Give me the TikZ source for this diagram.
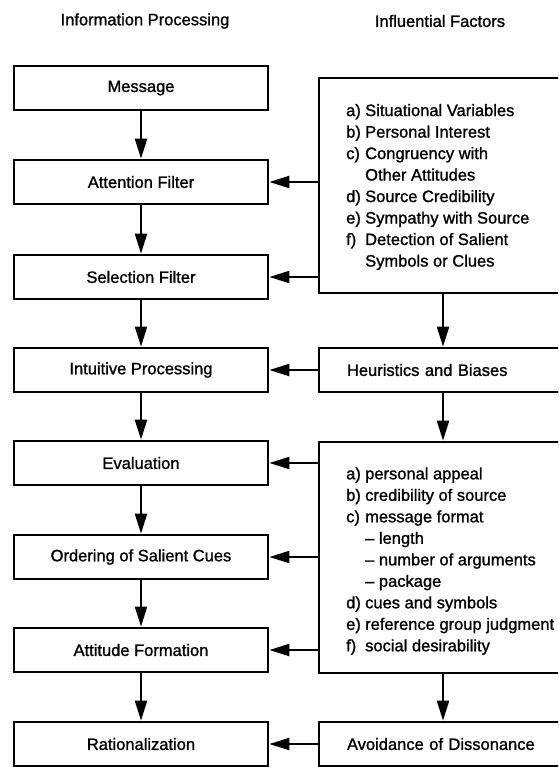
\documentclass[tikz,border=0pt]{standalone}
\usepackage{fontspec}
\setmainfont{Liberation Sans}[FakeBold=1.2]
\usetikzlibrary{arrows.meta}
\newcommand{\txtfont}{\fontsize{16.5}{21.5}\selectfont}
\begin{document}
\begin{tikzpicture}[x=1pt,y=-1pt,
  lbox/.style={draw,line width=2.7pt,minimum width=254pt,minimum height=44pt,inner sep=0pt,font=\txtfont},
  rbox/.style={draw,line width=2.7pt,minimum width=248pt,inner sep=0pt},
  rsingle/.style={draw,line width=2.7pt,minimum width=248pt,minimum height=44pt,text width=192pt,inner xsep=28pt,inner ysep=0pt,align=left,font=\txtfont},
  listtext/.style={anchor=west,inner sep=0pt,font=\txtfont},
  hdr/.style={font=\txtfont,inner sep=0pt},
  arr/.style={line width=2.2pt,-{Triangle[length=20pt,width=12pt]}}
]
\useasboundingbox (0,0) rectangle (558,767);
\clip (0,0) rectangle (558,767);

% headers
\node[hdr] (h1) at (145,21) {Information Processing};
\node[hdr] (h2) at (440,21) {Influential Factors};

% left column
\node[lbox] (msg) at (141,88) {Message};
\node[lbox] (att) at (141,182) {Attention Filter};
\node[lbox] (sel) at (141,277) {Selection Filter};
\node[lbox] (int) at (141,370) {Intuitive Processing};
\node[lbox] (eva) at (141,463) {Evaluation};
\node[lbox] (ord) at (141,557) {Ordering of Salient Cues};
\node[lbox] (atf) at (141,650) {Attitude Formation};
\node[lbox] (rat) at (141,744) {Rationalization};

% right column
\node[rbox,minimum height=215pt] (r1) at (443,185.5) {};
\node[listtext] (r1t) at (346,187) {%
\begin{tabular}{@{}p{15pt}@{\hspace{4pt}}l@{}}
a) & Situational Variables\\
b) & Personal Interest\\
c) & Congruency with\\
   & Other Attitudes\\
d) & Source Credibility\\
e) & Sympathy with Source\\
f) & Detection of Salient\\
   & Symbols or Clues
\end{tabular}};
\node[rsingle] (heu) at (443,370) {Heuristics and Biases};
\node[rbox,minimum height=231pt] (r3) at (443,557.5) {};
\node[listtext] (r3t) at (346,561) {%
\begin{tabular}{@{}p{15pt}@{\hspace{4pt}}l@{}}
a) & personal appeal\\
b) & credibility of source\\
c) & message format\\
   & -- length\\
   & -- number of arguments\\
   & -- package\\
d) & cues and symbols\\
e) & reference group judgment\\
f) & social desirability
\end{tabular}};
\node[rsingle] (avo) at (443,744) {Avoidance of Dissonance};

% vertical arrows left
\draw[arr] (msg) -- (att);
\draw[arr] (att) -- (sel);
\draw[arr] (sel) -- (int);
\draw[arr] (int) -- (eva);
\draw[arr] (eva) -- (ord);
\draw[arr] (ord) -- (atf);
\draw[arr] (atf) -- (rat);

% vertical arrows right
\draw[arr] (r1.south) -- (heu.north);
\draw[arr] (heu.south) -- (r3.north);
\draw[arr] (r3.south) -- (avo.north);

% horizontal arrows
\draw[arr] (r1.west |- att) -- (att.east);
\draw[arr] (r1.west |- sel) -- (sel.east);
\draw[arr] (heu.west) -- (int.east);
\draw[arr] (r3.west |- eva) -- (eva.east);
\draw[arr] (r3.west |- ord) -- (ord.east);
\draw[arr] (r3.west |- atf) -- (atf.east);
\draw[arr] (avo.west) -- (rat.east);
\end{tikzpicture}
\end{document}
